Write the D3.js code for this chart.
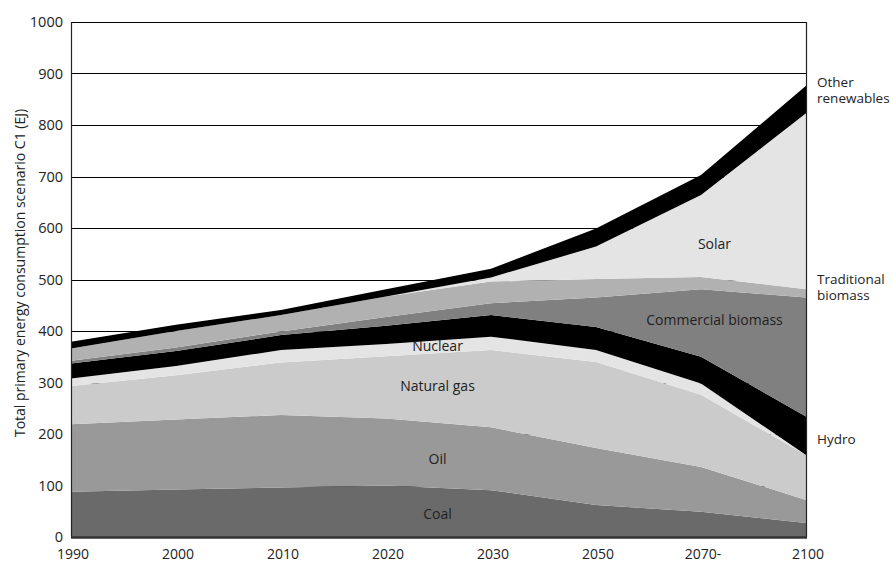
<!DOCTYPE html>
<html>
<head>
<meta charset="utf-8">
<script src="https://cdn.jsdelivr.net/npm/d3@7"></script>
<style>
  html, body { margin: 0; padding: 0; background: #fff; }
  svg { display: block; font-family: "Open Sans", "DejaVu Sans", sans-serif; }
</style>
</head>
<body>
<svg id="chart" width="893" height="563"></svg>
<script>
const categories = ["1990", "2000", "2010", "2020", "2030", "2050", "2070-", "2100"];
const seriesNames = ["Coal", "Oil", "Natural gas", "Nuclear", "Hydro", "Commercial biomass", "Traditional biomass", "Solar", "Other renewables"];
const coal = [88, 92, 96, 100, 91, 62, 49, 27];
const oil = [131, 136, 141, 130, 122, 111, 87, 45];
const naturalGas = [74, 86, 102, 121, 150, 167, 140, 87];
const nuclear = [15, 18, 24, 24, 26, 23, 22, 0];
const hydro = [29, 29, 29, 35, 42, 45, 52, 75];
const commercialBiomass = [5, 7, 7, 17, 23, 57, 131, 231];
const traditionalBiomass = [24, 32, 32, 40, 42, 36, 24, 16];
const solar = [0, 0, 0, 0, 8, 63, 159, 342];
const otherRenewables = [13, 12, 10, 14, 17, 35, 39, 53];
const yTicks = [0, 100, 200, 300, 400, 500, 600, 700, 800, 900, 1000];

(function () {
const seriesValues = [coal, oil, naturalGas, nuclear, hydro, commercialBiomass, traditionalBiomass, solar, otherRenewables];
const colors = ["#6a6a6a", "#999999", "#cbcbcb", "#e4e4e4", "#000000", "#808080", "#b1b1b1", "#e4e4e4", "#000000"];

const table = categories.map((c, i) => {
  const row = { cat: c };
  seriesNames.forEach((s, j) => { row[s] = seriesValues[j][i]; });
  return row;
});

const pl = 71, pr = 806, pt = 22, pb = 537;
const svg = d3.select("#chart");
const x = d3.scalePoint().domain(categories).range([pl, pr]).padding(0);
const y = d3.scaleLinear().domain([0, 1000]).range([pb, pt]);

// gridlines
svg.append("g").selectAll("line").data(yTicks.filter(t => t > 0)).join("line")
  .attr("x1", pl).attr("x2", pr)
  .attr("y1", d => Math.round(y(d)) + 0.5).attr("y2", d => Math.round(y(d)) + 0.5)
  .attr("stroke", "#000").attr("stroke-width", 1);

const stacked = d3.stack().keys(seriesNames)(table);
const area = d3.area()
  .x(d => x(d.data.cat))
  .y0(d => y(d[0]))
  .y1(d => y(d[1]));

svg.append("g").selectAll("path").data(stacked).join("path")
  .attr("d", area)
  .attr("fill", (d, i) => colors[i]);

// frame
svg.append("line").attr("x1", pl + 0.5).attr("x2", pl + 0.5).attr("y1", pt).attr("y2", pb)
  .attr("stroke", "#222").attr("stroke-width", 1.2);
svg.append("line").attr("x1", pr + 0.5).attr("x2", pr + 0.5).attr("y1", pt).attr("y2", pb)
  .attr("stroke", "#222").attr("stroke-width", 1.2);
svg.append("line").attr("x1", pl).attr("x2", pr + 1).attr("y1", pb + 0.5).attr("y2", pb + 0.5)
  .attr("stroke", "#333").attr("stroke-width", 2.5);

// y tick labels
svg.append("g").selectAll("text").data(yTicks).join("text")
  .attr("x", 63).attr("y", d => y(d) + 5)
  .attr("text-anchor", "end").attr("font-size", 14.5).attr("fill", "#222")
  .text(d => d);

// x tick labels
svg.append("g").selectAll("text").data(categories).join("text")
  .attr("x", d => x(d) + 2).attr("y", 558.5)
  .attr("text-anchor", "middle").attr("font-size", 14).attr("fill", "#222")
  .text(d => d);

// y axis title
svg.append("text")
  .attr("transform", `translate(25, 273) rotate(-90)`)
  .attr("text-anchor", "middle").attr("font-size", 14).attr("fill", "#222")
  .text("Total primary energy consumption scenario C1 (EJ)");

// in-chart labels
const mid = (x("2020") + x("2030")) / 2 - 1;
const inLabels = [
  { t: "Coal", x: mid, v: 45 },
  { t: "Oil", x: mid, v: 152 },
  { t: "Natural gas", x: mid, v: 293 },
  { t: "Nuclear", x: mid, v: 370 },
  { t: "Solar", x: (x("2050") + x("2070-")) / 2 + 66, v: 568 },
  { t: "Commercial biomass", x: (x("2050") + x("2070-")) / 2 + 66, v: 421 }
];
svg.append("g").selectAll("text").data(inLabels).join("text")
  .attr("x", d => d.x).attr("y", d => y(d.v) + 5)
  .attr("text-anchor", "middle").attr("font-size", 14).attr("fill", "#222")
  .text(d => d.t);

// right labels
const rightLabels = [
  { lines: ["Other", "renewables"], v: 868 },
  { lines: ["Traditional", "biomass"], v: 486 },
  { lines: ["Hydro"], v: 190 }
];
rightLabels.forEach(r => {
  const t = svg.append("text").attr("x", pr + 11).attr("font-size", 13.5).attr("fill", "#222");
  const y0 = y(r.v) + 5 - (r.lines.length - 1) * 8;
  r.lines.forEach((l, i) => {
    t.append("tspan").attr("x", pr + 11).attr("y", y0 + i * 16.5).text(l);
  });
});
})();
</script>
</body>
</html>
